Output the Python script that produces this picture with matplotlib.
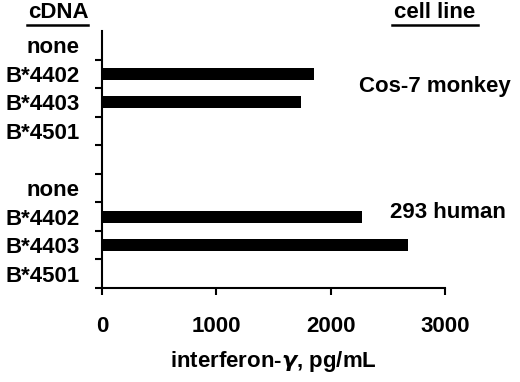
import matplotlib
matplotlib.use("Agg")
import matplotlib.pyplot as plt
from matplotlib.lines import Line2D
from matplotlib.ticker import FixedLocator

plt.rcParams["font.family"] = ["Liberation Sans", "DejaVu Sans"]
plt.rcParams["font.weight"] = "bold"
plt.rcParams["mathtext.fontset"] = "dejavusans"

CATEGORIES = ["none", "B*4402", "B*4403", "B*4501", "",
              "none", "B*4402", "B*4403", "B*4501"]
VALUES = [0, 1850, 1740, 0, 0, 0, 2270, 2680, 0]
CELL_LINES = ["Cos-7 monkey", "293 human"]
X_TICKS = [0, 1000, 2000, 3000]

W, H = 520, 382
fig = plt.figure(figsize=(W / 100, H / 100), dpi=100)
ax = fig.add_axes([102 / W, 1 - 288 / H, (445 - 102) / W, (288 - 31) / H])

pos = list(range(len(CATEGORIES)))
ax.barh(pos, VALUES, height=0.42, color="black")

ax.set_xlim(0, 3000)
ax.set_ylim(len(CATEGORIES) - 0.5, -0.5)

ax.set_yticks(pos)
ax.set_yticklabels(CATEGORIES, fontsize=16, fontweight="bold")
ax.yaxis.set_minor_locator(FixedLocator([p + 0.5 for p in pos]))
ax.tick_params(axis="y", which="major", length=0, pad=16)
ax.tick_params(axis="y", which="minor", length=5, width=1.5, direction="out")

ax.set_xticks(X_TICKS)
ax.set_xticklabels([str(t) for t in X_TICKS], fontsize=16, fontweight="bold")
ax.tick_params(axis="x", length=5, width=1.5, direction="out", pad=15)
ax.set_xlabel(r"interferon-$\gamma$, pg/mL", fontsize=16, fontweight="bold",
              labelpad=9)

for side in ["top", "right"]:
    ax.spines[side].set_visible(False)
for side in ["left", "bottom"]:
    ax.spines[side].set_linewidth(1.5)

ax.text(2250, 1.45, CELL_LINES[0], fontsize=16, fontweight="bold",
        va="center", ha="left", clip_on=False)
ax.text(2520, 5.85, CELL_LINES[1], fontsize=16, fontweight="bold",
        va="center", ha="left", clip_on=False)

# column headings with underlines
fig.text(58 / W, 1 - 13 / H, "cDNA", fontsize=16, fontweight="bold",
         ha="center", va="center")
fig.text(435 / W, 1 - 13 / H, "cell line", fontsize=16, fontweight="bold",
         ha="center", va="center")
fig.add_artist(Line2D([27 / W, 88 / W], [1 - 25 / H, 1 - 25 / H],
                      color="black", linewidth=1.8))
fig.add_artist(Line2D([392 / W, 478 / W], [1 - 25 / H, 1 - 25 / H],
                      color="black", linewidth=1.8))

fig.savefig("out.png", dpi=100)
